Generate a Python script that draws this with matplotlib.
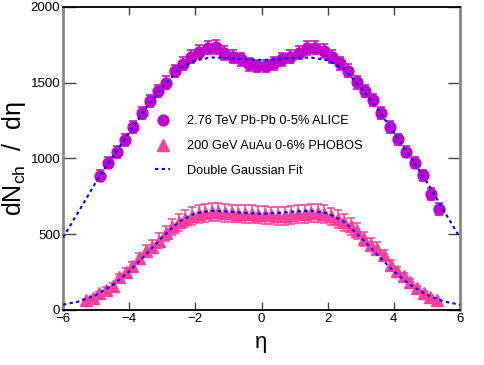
import matplotlib
matplotlib.use('Agg')
import matplotlib.pyplot as plt
from matplotlib.lines import Line2D

plt.rcParams['font.family'] = ['Liberation Sans', 'DejaVu Sans']
plt.rcParams['mathtext.fontset'] = 'custom'
plt.rcParams['mathtext.rm'] = 'Liberation Sans'

# ALICE 2.76 TeV Pb-Pb 0-5%
alice_eta = [-4.875, -4.625, -4.375, -4.125, -3.875, -3.625, -3.375, -3.125,
             -2.875, -2.625, -2.375, -2.125, -1.875, -1.625, -1.375, -1.125,
             -0.875, -0.625, -0.375, -0.125, 0.125, 0.375, 0.625, 0.875,
             1.125, 1.375, 1.625, 1.875, 2.125, 2.375, 2.625, 2.875,
             3.125, 3.375, 3.625, 3.875, 4.125, 4.375, 4.625, 4.875,
             5.125, 5.375]
alice_val = [886, 972, 1043, 1122, 1206, 1298, 1382, 1446,
             1500, 1578, 1626, 1672, 1705, 1731, 1736, 1696,
             1672, 1655, 1622, 1611, 1611, 1628, 1655, 1672,
             1699, 1731, 1731, 1709, 1672, 1628, 1580, 1503,
             1446, 1386, 1302, 1208, 1127, 1045, 972, 889,
             766, 665]
alice_err = [36, 37, 38, 38, 39, 40, 40, 41,
             42, 42, 43, 43, 44, 44, 45, 44,
             43, 43, 42, 42, 42, 42, 43, 43,
             44, 45, 44, 44, 43, 43, 42, 42,
             41, 40, 40, 39, 38, 38, 37, 36,
             40, 40]

# PHOBOS 200 GeV Au-Au 0-6%
phobos_eta = [-5.3, -5.1, -4.9, -4.7, -4.5, -4.3, -4.1, -3.9, -3.7, -3.5,
              -3.3, -3.1, -2.9, -2.7, -2.5, -2.3, -2.1, -1.9, -1.7, -1.5,
              -1.3, -1.1, -0.9, -0.7, -0.5, -0.3, -0.1,
              0.1, 0.3, 0.5, 0.7, 0.9, 1.1, 1.3, 1.5, 1.7, 1.9,
              2.1, 2.3, 2.5, 2.7, 2.9, 3.1, 3.3, 3.5, 3.7, 3.9,
              4.1, 4.3, 4.5, 4.7, 4.9, 5.1, 5.3]
phobos_val = [65, 82, 110, 135, 160, 215, 252, 288, 340, 390,
              418, 458, 505, 548, 580, 602, 622, 636, 643, 645,
              645, 640, 638, 636, 634, 632, 630,
              628, 625, 622, 622, 627, 632, 636, 640, 640, 632,
              618, 600, 578, 552, 522, 470, 432, 405, 362, 296,
              256, 222, 185, 142, 112, 88, 66]
phobos_err = [7, 9, 11, 14, 17, 23, 27, 31, 36, 41,
              44, 47, 51, 54, 56, 57, 58, 59, 59, 59,
              59, 58, 58, 58, 58, 58, 58,
              58, 58, 58, 58, 58, 58, 59, 59, 59, 59,
              58, 57, 56, 54, 51, 47, 44, 41, 36, 31,
              27, 23, 17, 14, 11, 9, 7]

# double gaussian fits
fit_eta = [-6, -5.5, -5, -4.5, -4, -3.5, -3, -2.5, -2, -1.5, -1, -0.5, 0,
           0.5, 1, 1.5, 2, 2.5, 3, 3.5, 4, 4.5, 5, 5.5, 6]
fit_alice = [478, 660, 845, 1010, 1172, 1330, 1468, 1590, 1648, 1667, 1663, 1655, 1650,
             1655, 1663, 1667, 1648, 1590, 1468, 1330, 1172, 1010, 845, 660, 478]
fit_phobos = [35, 57, 100, 165, 255, 365, 480, 582, 638, 655, 650, 640, 635,
              640, 650, 655, 638, 582, 480, 365, 255, 165, 100, 57, 35]

alice_col = '#c400cc'
phobos_col = '#ff3d9a'
fit_col = '#0000ff'

fig = plt.figure(figsize=(4.84, 3.65), dpi=100)
ax = fig.add_axes([63/484, 1 - 310/365, 397/484, 303/365])

ax.errorbar(alice_eta, alice_val, yerr=alice_err, fmt='o', color=alice_col,
            ms=7.8, elinewidth=1.1, capsize=2.6, capthick=1.1, zorder=3)
ax.errorbar(phobos_eta, phobos_val, yerr=phobos_err, fmt='^', color=phobos_col,
            ms=8.5, elinewidth=1.1, capsize=2.6, capthick=1.1, zorder=4)
ax.plot(fit_eta, fit_alice, color=fit_col, lw=1.5, ls=(0, (1.6, 1.6)), zorder=5)
ax.plot(fit_eta, fit_phobos, color=fit_col, lw=1.5, ls=(0, (1.6, 1.6)), zorder=5)

ax.set_xlim(-6, 6)
ax.set_ylim(0, 2000)
ax.set_xticks([-6, -4, -2, 0, 2, 4, 6])
ax.set_xticklabels(['\u22126', '\u22124', '\u22122', '0', '2', '4', '6'])
ax.set_yticks([0, 500, 1000, 1500, 2000])

for side in ['left', 'right']:
    ax.spines[side].set_color('#888888')
    ax.spines[side].set_linewidth(2)
for side in ['top', 'bottom']:
    ax.spines[side].set_color('black')
    ax.spines[side].set_linewidth(1.3)

ax.tick_params(axis='x', direction='in', top=True, length=6, width=1,
               labelsize=9.5, pad=2, color='#444444')
ax.tick_params(axis='y', direction='in', right=True, length=9, width=1,
               labelsize=9.5, pad=2, color='#444444')

ax.set_xlabel('\u03b7', fontsize=16, labelpad=5)
ax.set_ylabel('dN$_{\\mathregular{ch}}$  /  d\u03b7', fontsize=18, labelpad=2)

handles = [
    Line2D([], [], ls='none', marker='o', color=alice_col, ms=7.8),
    Line2D([], [], ls='none', marker='^', color=phobos_col, ms=8.5),
    Line2D([], [], color=fit_col, lw=1.5, ls=(0, (1.6, 1.6))),
]
labels = ['2.76 TeV Pb-Pb 0-5% ALICE', '200 GeV AuAu 0-6% PHOBOS',
          'Double Gaussian Fit']
ax.legend(handles, labels, loc='upper left', bbox_to_anchor=(0.232, 0.642),
          frameon=False, fontsize=9.2, borderpad=0, handlelength=1.2,
          handletextpad=1.3, labelspacing=0.98, borderaxespad=0)

fig.savefig('out.png', dpi=100)
